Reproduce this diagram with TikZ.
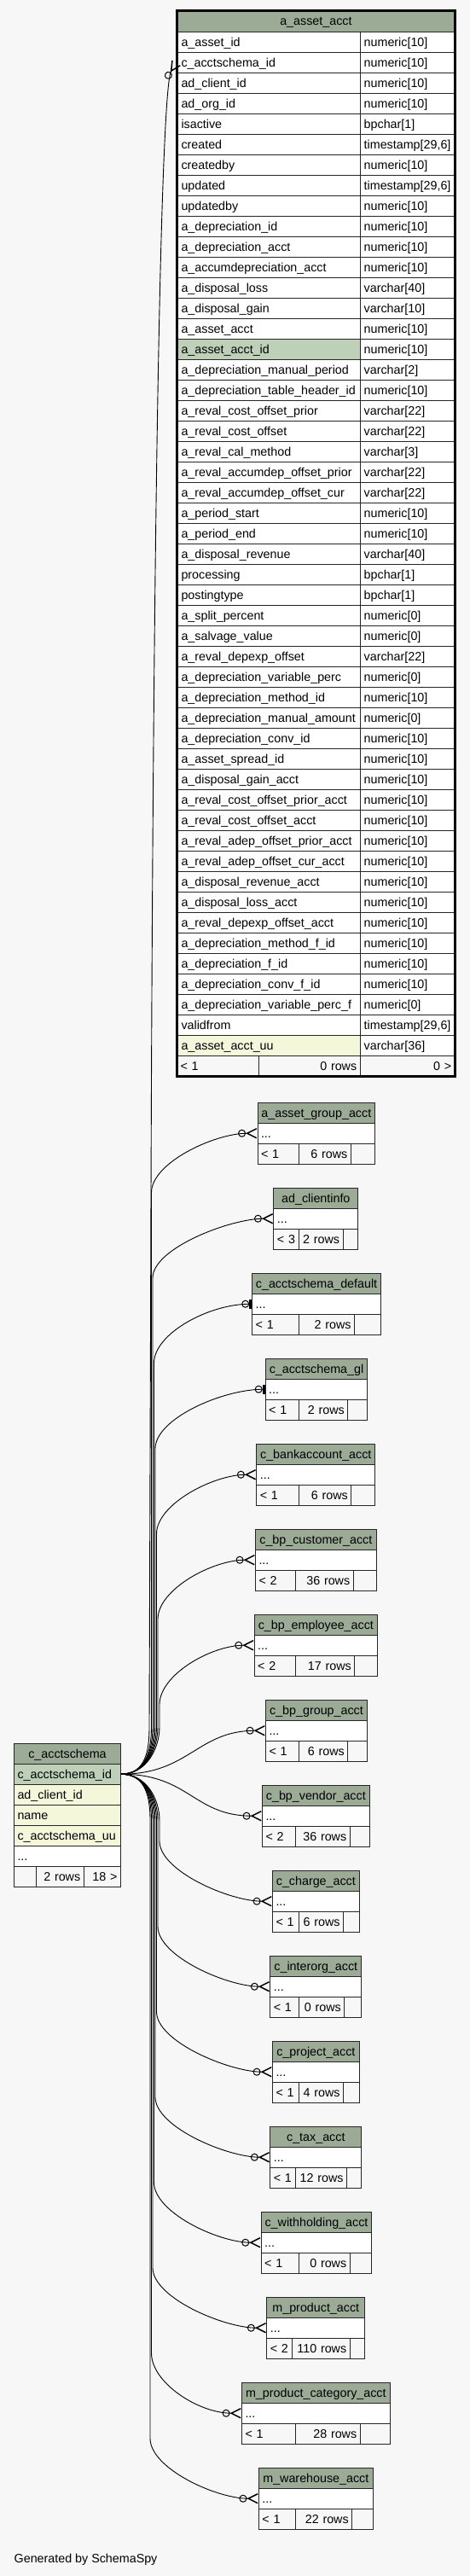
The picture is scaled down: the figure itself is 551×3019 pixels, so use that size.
\documentclass[tikz,border=0pt]{standalone}
\usepackage{fontspec}
\setmainfont{Liberation Sans}
\usetikzlibrary{arrows.meta}

\definecolor{pagebg}{HTML}{F7F7F7}
\definecolor{headcol}{HTML}{9BAB96}
\definecolor{pkcol}{HTML}{BED1B8}
\definecolor{idxcol}{HTML}{F4F7DA}

\tikzset{
  tblcell/.style={draw=black!85, line width=1pt, fill=white, anchor=north west,
    minimum height=24pt, inner xsep=4pt, inner ysep=0pt,
    text height=13pt, text depth=3pt, align=left},
  tblhead/.style={tblcell, fill=headcol, align=center},
  tblfoot/.style={tblcell, fill=pagebg},
  fklink/.style={line width=0.9pt, draw=black},
  crowend/.style={fklink, -{Circle[open,length=9pt,width=9pt,line width=1pt]
    Straight Barb[reversed,length=11pt,width=11pt,line width=1.5pt]}},
  oneend/.style={fklink, -{Circle[open,length=9pt,width=9pt,line width=1pt]
    Bar[width=11pt,line width=3pt]}}
}

% one small child table: name, title, left, right, top, split 1, split 2, footer texts
\newcommand\acctbox[9]{%
  \pgfmathsetmacro\acctw{#4-#3}%
  \pgfmathsetmacro\acctdw{#4-#3-8}%
  \pgfmathsetmacro\accta{#6-#3-8}%
  \pgfmathsetmacro\acctb{#7-#6-8}%
  \pgfmathsetmacro\acctc{#4-#7}%
  \node[tblhead, minimum width=\acctw pt] (#1) at (#3,#5) {#2};
  \node[tblcell, text width=\acctdw pt] (#1-d) at (#3,#5+24) {...};
  \node[tblfoot, text width=\accta pt] (#1-f1) at (#3,#5+48) {#8};
  \node[tblfoot, text width=\acctb pt, align=right] (#1-f2) at (#6,#5+48) {#9};
  \node[tblfoot, minimum width=\acctc pt] (#1-f3) at (#7,#5+48) {};
}

% link from c_acctschema_id: style, target, x of the run, target y, -1 up / 1 down
\newcommand\acctlink[5]{%
  \draw[#1] (cs1.east) .. controls +(30,0) and +(0,{-25*(#5)}) .. ({#3},{2078.7+55*(#5)})
    -- ({#3},{#4-70*(#5)}) .. controls +(0,{35*(#5)}) and +(-50,0) .. (#2.west);
}

\begin{document}
\catcode`\_=12
\begin{tikzpicture}[x=1pt,y=-1pt,font=\fontsize{14.3pt}{17pt}\selectfont]
\fill[pagebg] (0,0) rectangle (551,3019);
\useasboundingbox (0,0) rectangle (551,3019);

% the table a_asset_acct
\node[tblhead, minimum width=325.8pt, minimum height=24.4pt] (aa) at (207,12.3) {a_asset_acct};
\foreach \n/\t [count=\i] in {
  a_asset_id/numeric[10], c_acctschema_id/numeric[10], ad_client_id/numeric[10],
  ad_org_id/numeric[10], isactive/bpchar[1], created/{timestamp[29,6]},
  createdby/numeric[10], updated/{timestamp[29,6]}, updatedby/numeric[10],
  a_depreciation_id/numeric[10], a_depreciation_acct/numeric[10],
  a_accumdepreciation_acct/numeric[10], a_disposal_loss/varchar[40],
  a_disposal_gain/varchar[10], a_asset_acct/numeric[10], a_asset_acct_id/numeric[10],
  a_depreciation_manual_period/varchar[2], a_depreciation_table_header_id/numeric[10],
  a_reval_cost_offset_prior/varchar[22], a_reval_cost_offset/varchar[22],
  a_reval_cal_method/varchar[3], a_reval_accumdep_offset_prior/varchar[22],
  a_reval_accumdep_offset_cur/varchar[22], a_period_start/numeric[10],
  a_period_end/numeric[10], a_disposal_revenue/varchar[40], processing/bpchar[1],
  postingtype/bpchar[1], a_split_percent/numeric[0], a_salvage_value/numeric[0],
  a_reval_depexp_offset/varchar[22], a_depreciation_variable_perc/numeric[0],
  a_depreciation_method_id/numeric[10], a_depreciation_manual_amount/numeric[0],
  a_depreciation_conv_id/numeric[10], a_asset_spread_id/numeric[10],
  a_disposal_gain_acct/numeric[10], a_reval_cost_offset_prior_acct/numeric[10],
  a_reval_cost_offset_acct/numeric[10], a_reval_adep_offset_prior_acct/numeric[10],
  a_reval_adep_offset_cur_acct/numeric[10], a_disposal_revenue_acct/numeric[10],
  a_disposal_loss_acct/numeric[10], a_reval_depexp_offset_acct/numeric[10],
  a_depreciation_method_f_id/numeric[10], a_depreciation_f_id/numeric[10],
  a_depreciation_conv_f_id/numeric[10], a_depreciation_variable_perc_f/numeric[0],
  validfrom/{timestamp[29,6]}, a_asset_acct_uu/varchar[36]}{
  \ifnum\i=16 \def\rowfill{pkcol}\else\ifnum\i=50 \def\rowfill{idxcol}\else\def\rowfill{white}\fi\fi
  \node[tblcell, fill=\rowfill, inner xsep=5pt, text width=204.7pt] (aa-\i) at (207,{36.7+24*(\i-1)}) {\n};
  \node[tblcell, inner xsep=4.5pt, text width=102.1pt] (aat-\i) at (421.7,{36.7+24*(\i-1)}) {\t};
}
\node[tblfoot, text width=88.3pt] (aa-f1) at (207,1236.7) {< 1};
\node[tblfoot, text width=110.4pt, align=right] (aa-f2) at (303.3,1236.7) {0 rows};
\node[tblfoot, text width=103.1pt, align=right] (aa-f3) at (421.7,1236.7) {0 >};
\draw[line width=3pt] (aa.north west) rectangle (aa-f3.south east);

% the table c_acctschema
\node[tblhead, minimum width=125pt] (cs) at (16,2042.7) {c_acctschema};
\node[tblcell, fill=pkcol, text width=117pt] (cs1) at (16,2066.7) {c_acctschema_id};
\node[tblcell, fill=idxcol, text width=117pt] (cs2) at (16,2090.7) {ad_client_id};
\node[tblcell, fill=idxcol, text width=117pt] (cs3) at (16,2114.7) {name};
\node[tblcell, fill=idxcol, text width=117pt] (cs4) at (16,2138.7) {c_acctschema_uu};
\node[tblcell, text width=117pt] (cs5) at (16,2162.7) {...};
\node[tblfoot, minimum width=25.7pt] (cs-f1) at (16,2186.7) {};
\node[tblfoot, text width=48pt, align=right] (cs-f2) at (41.7,2186.7) {2 rows};
\node[tblfoot, text width=35.3pt, align=right] (cs-f3) at (97.7,2186.7) {18 >};

% the child tables
\acctbox{agrp}{a_asset_group_acct}{301.5}{439.2}{1291.7}{350}{410.8}{< 1}{6 rows}
\acctbox{clinfo}{ad_clientinfo}{320.4}{419.2}{1391.7}{350}{401.6}{< 3}{2 rows}
\acctbox{csdef}{c_acctschema_default}{295.2}{445.9}{1491.7}{350}{415}{< 1}{2 rows}
\acctbox{csgl}{c_acctschema_gl}{310.7}{430.3}{1591.7}{349.7}{407.3}{< 1}{2 rows}
\acctbox{bank}{c_bankaccount_acct}{300.3}{439.3}{1691.7}{349.7}{411.3}{< 1}{6 rows}
\acctbox{bpcust}{c_bp_customer_acct}{299}{440.7}{1791.7}{345.7}{413.7}{< 2}{36 rows}
\acctbox{bpemp}{c_bp_employee_acct}{297.7}{442}{1891.7}{345.7}{415.3}{< 2}{17 rows}
\acctbox{bpgrp}{c_bp_group_acct}{311}{430}{1991.7}{349.7}{407.3}{< 1}{6 rows}
\acctbox{bpvend}{c_bp_vendor_acct}{307}{432.7}{2091.7}{345.7}{409.7}{< 2}{36 rows}
\acctbox{charge}{c_charge_acct}{319}{420.7}{2191.7}{349.7}{402}{< 1}{6 rows}
\acctbox{interorg}{c_interorg_acct}{316.3}{423.3}{2291.7}{349.7}{403.3}{< 1}{0 rows}
\acctbox{project}{c_project_acct}{319}{420.7}{2391.7}{349.7}{402}{< 1}{4 rows}
\acctbox{tax}{c_tax_acct}{316.3}{423.3}{2491.7}{345.7}{406}{< 1}{12 rows}
\acctbox{withh}{c_withholding_acct}{305.7}{435.3}{2591.7}{349.7}{409.7}{< 1}{0 rows}
\acctbox{mprod}{m_product_acct}{312.3}{427.3}{2691.7}{341.7}{409.7}{< 2}{110 rows}
\acctbox{mpcat}{m_product_category_acct}{283}{456.7}{2791.7}{345.7}{421.7}{< 1}{28 rows}
\acctbox{mwh}{m_warehouse_acct}{302.9}{436.8}{2891.7}{346.1}{412.2}{< 1}{22 rows}

% links
\draw[crowend] (cs1.east) .. controls +(30,0) and +(0,25) .. (175,2023.7)
  -- (177,1400) .. controls (180,500) and (190,100) .. (aa-2.west);
\acctlink{crowend}{agrp-d}{177.5}{1327.7}{-1}
\acctlink{crowend}{clinfo-d}{179}{1427.7}{-1}
\acctlink{oneend}{csdef-d}{180.5}{1527.7}{-1}
\acctlink{oneend}{csgl-d}{182}{1627.7}{-1}
\acctlink{crowend}{bank-d}{183.5}{1727.7}{-1}
\acctlink{crowend}{bpcust-d}{185}{1827.7}{-1}
\acctlink{crowend}{bpemp-d}{187}{1927.7}{-1}
\draw[crowend] (cs1.east) .. controls +(80,0) and +(-80,0) .. (bpgrp-d.west);
\draw[crowend] (cs1.east) .. controls +(80,0) and +(-80,0) .. (bpvend-d.west);
\acctlink{crowend}{charge-d}{187}{2227.7}{1}
\acctlink{crowend}{interorg-d}{185}{2327.7}{1}
\acctlink{crowend}{project-d}{183.5}{2427.7}{1}
\acctlink{crowend}{tax-d}{182}{2527.7}{1}
\acctlink{crowend}{withh-d}{180.5}{2627.7}{1}
\acctlink{crowend}{mprod-d}{179}{2727.7}{1}
\acctlink{crowend}{mpcat-d}{177.5}{2827.7}{1}
\acctlink{crowend}{mwh-d}{176}{2927.7}{1}

\node[anchor=base west, inner sep=0pt] (gen) at (16.5,3003.5) {Generated by SchemaSpy};
\end{tikzpicture}
\end{document}
